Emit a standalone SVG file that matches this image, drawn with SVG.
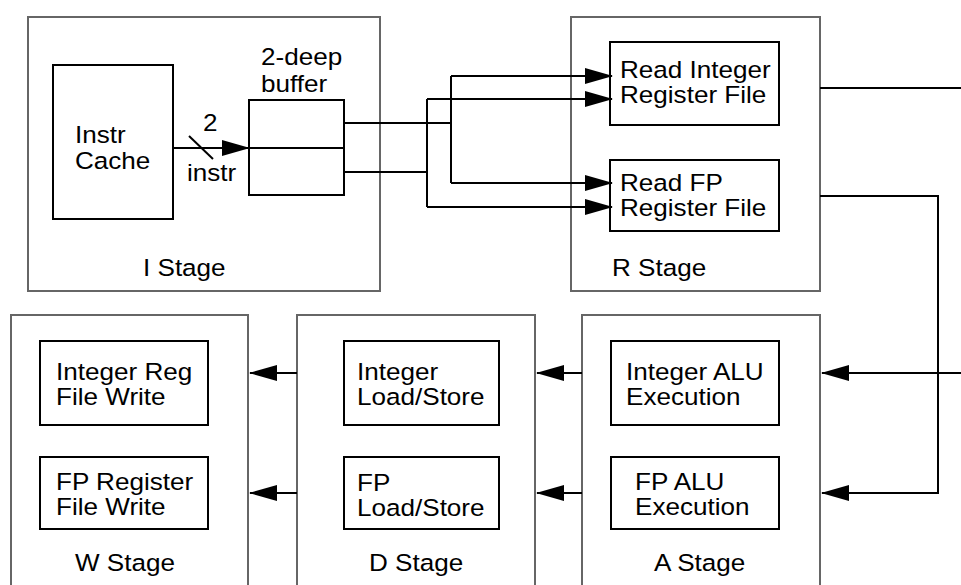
<svg xmlns="http://www.w3.org/2000/svg" width="961" height="585" viewBox="0 0 961 585">
  <style>
    .stage { fill: none; stroke: #666; stroke-width: 2; }
    .blk { fill: none; stroke: #000; stroke-width: 2; }
    .wire { fill: none; stroke: #000; stroke-width: 2; }
    .t { font-family: "Liberation Sans", Arial, Helvetica, sans-serif; font-size: 23.5px; fill: #000; }
  </style>
  <defs>
    <marker id="arrow" markerUnits="userSpaceOnUse" markerWidth="28" markerHeight="16" refX="27" refY="8" orient="auto">
      <path d="M0,0 L28,8 L0,16 z" fill="#000"/>
    </marker>
  </defs>
  <rect width="961" height="585" fill="#fff"/>

  <!-- I stage -->
  <g id="i-stage">
    <rect class="stage" x="28" y="17" width="352" height="274"/>
    <text class="t" transform="translate(143 276) scale(1.11 1)">I Stage</text>
  </g>
  <g id="instr-cache">
    <rect class="blk" x="53" y="65" width="120" height="154"/>
    <text class="t" transform="translate(75 143) scale(1.11 1)"><tspan x="0" y="0">Instr</tspan><tspan x="0" y="26">Cache</tspan></text>
  </g>
  <g id="buffer">
    <rect class="blk" x="249" y="100" width="95" height="95"/>
    <line class="blk" x1="249" y1="148" x2="344" y2="148"/>
    <text class="t" transform="translate(261 65) scale(1.11 1)"><tspan x="0" y="0">2-deep</tspan><tspan x="0" y="27">buffer</tspan></text>
  </g>

  <!-- R stage -->
  <g id="r-stage">
    <rect class="stage" x="571" y="17" width="249" height="274"/>
    <text class="t" transform="translate(612 276) scale(1.11 1)">R Stage</text>
  </g>
  <g id="read-int">
    <rect class="blk" x="610" y="42" width="169" height="83"/>
    <text class="t" transform="translate(620 78) scale(1.11 1)"><tspan x="0" y="0">Read Integer</tspan><tspan x="0" y="25">Register File</tspan></text>
  </g>
  <g id="read-fp">
    <rect class="blk" x="610" y="160" width="169" height="71"/>
    <text class="t" transform="translate(620 191) scale(1.11 1)"><tspan x="0" y="0">Read FP</tspan><tspan x="0" y="25">Register File</tspan></text>
  </g>

  <!-- W stage -->
  <g id="w-stage">
    <rect class="stage" x="11" y="315" width="237" height="290"/>
    <text class="t" transform="translate(75 571) scale(1.11 1)">W Stage</text>
  </g>
  <g id="int-write">
    <rect class="blk" x="40" y="341" width="168" height="84"/>
    <text class="t" transform="translate(56 380) scale(1.11 1)"><tspan x="0" y="0">Integer Reg</tspan><tspan x="0" y="25">File Write</tspan></text>
  </g>
  <g id="fp-write">
    <rect class="blk" x="40" y="457" width="168" height="72"/>
    <text class="t" transform="translate(56 490) scale(1.11 1)"><tspan x="0" y="0">FP Register</tspan><tspan x="0" y="25">File Write</tspan></text>
  </g>

  <!-- D stage -->
  <g id="d-stage">
    <rect class="stage" x="297" y="315" width="238" height="290"/>
    <text class="t" transform="translate(369 571) scale(1.11 1)">D Stage</text>
  </g>
  <g id="int-ls">
    <rect class="blk" x="344" y="341" width="155" height="84"/>
    <text class="t" transform="translate(357 380) scale(1.11 1)"><tspan x="0" y="0">Integer</tspan><tspan x="0" y="25">Load/Store</tspan></text>
  </g>
  <g id="fp-ls">
    <rect class="blk" x="344" y="457" width="155" height="72"/>
    <text class="t" transform="translate(357 491) scale(1.11 1)"><tspan x="0" y="0">FP</tspan><tspan x="0" y="25">Load/Store</tspan></text>
  </g>

  <!-- A stage -->
  <g id="a-stage">
    <rect class="stage" x="582" y="315" width="238" height="290"/>
    <text class="t" transform="translate(654 571) scale(1.11 1)">A Stage</text>
  </g>
  <g id="int-alu">
    <rect class="blk" x="611" y="341" width="168" height="84"/>
    <text class="t" transform="translate(626 380) scale(1.11 1)"><tspan x="0" y="0">Integer ALU</tspan><tspan x="0" y="25">Execution</tspan></text>
  </g>
  <g id="fp-alu">
    <rect class="blk" x="611" y="457" width="168" height="72"/>
    <text class="t" transform="translate(635 490) scale(1.11 1)"><tspan x="0" y="0">FP ALU</tspan><tspan x="0" y="25">Execution</tspan></text>
  </g>

  <!-- connectors -->
  <g id="connectors">
    <!-- fetch path: 2 instructions per cycle -->
    <line class="wire" x1="173" y1="148" x2="249" y2="148" marker-end="url(#arrow)"/>
    <line class="wire" x1="189" y1="136" x2="213" y2="159"/>
    <text class="t" transform="translate(203 131) scale(1.11 1)">2</text>
    <text class="t" transform="translate(187 181) scale(1.11 1)">instr</text>

    <!-- buffer slots fan out to both register files -->
    <polyline class="wire" points="344,123 451,123"/>
    <polyline class="wire" points="451,76 451,183"/>
    <line class="wire" x1="451" y1="76" x2="612" y2="76" marker-end="url(#arrow)"/>
    <line class="wire" x1="451" y1="183" x2="612" y2="183" marker-end="url(#arrow)"/>
    <polyline class="wire" points="344,172 427,172"/>
    <polyline class="wire" points="427,99 427,207"/>
    <line class="wire" x1="427" y1="99" x2="612" y2="99" marker-end="url(#arrow)"/>
    <line class="wire" x1="427" y1="207" x2="612" y2="207" marker-end="url(#arrow)"/>

    <!-- R to A -->
    <line class="wire" x1="820" y1="88" x2="961" y2="88"/>
    <line class="wire" x1="961" y1="373" x2="822" y2="373" marker-end="url(#arrow)"/>
    <polyline class="wire" points="820,196 938,196 938,493 822,493" marker-end="url(#arrow)"/>

    <!-- A to D -->
    <line class="wire" x1="582" y1="373" x2="537" y2="373" marker-end="url(#arrow)"/>
    <line class="wire" x1="582" y1="493" x2="537" y2="493" marker-end="url(#arrow)"/>

    <!-- D to W -->
    <line class="wire" x1="297" y1="373" x2="250" y2="373" marker-end="url(#arrow)"/>
    <line class="wire" x1="297" y1="493" x2="250" y2="493" marker-end="url(#arrow)"/>
  </g>
</svg>
